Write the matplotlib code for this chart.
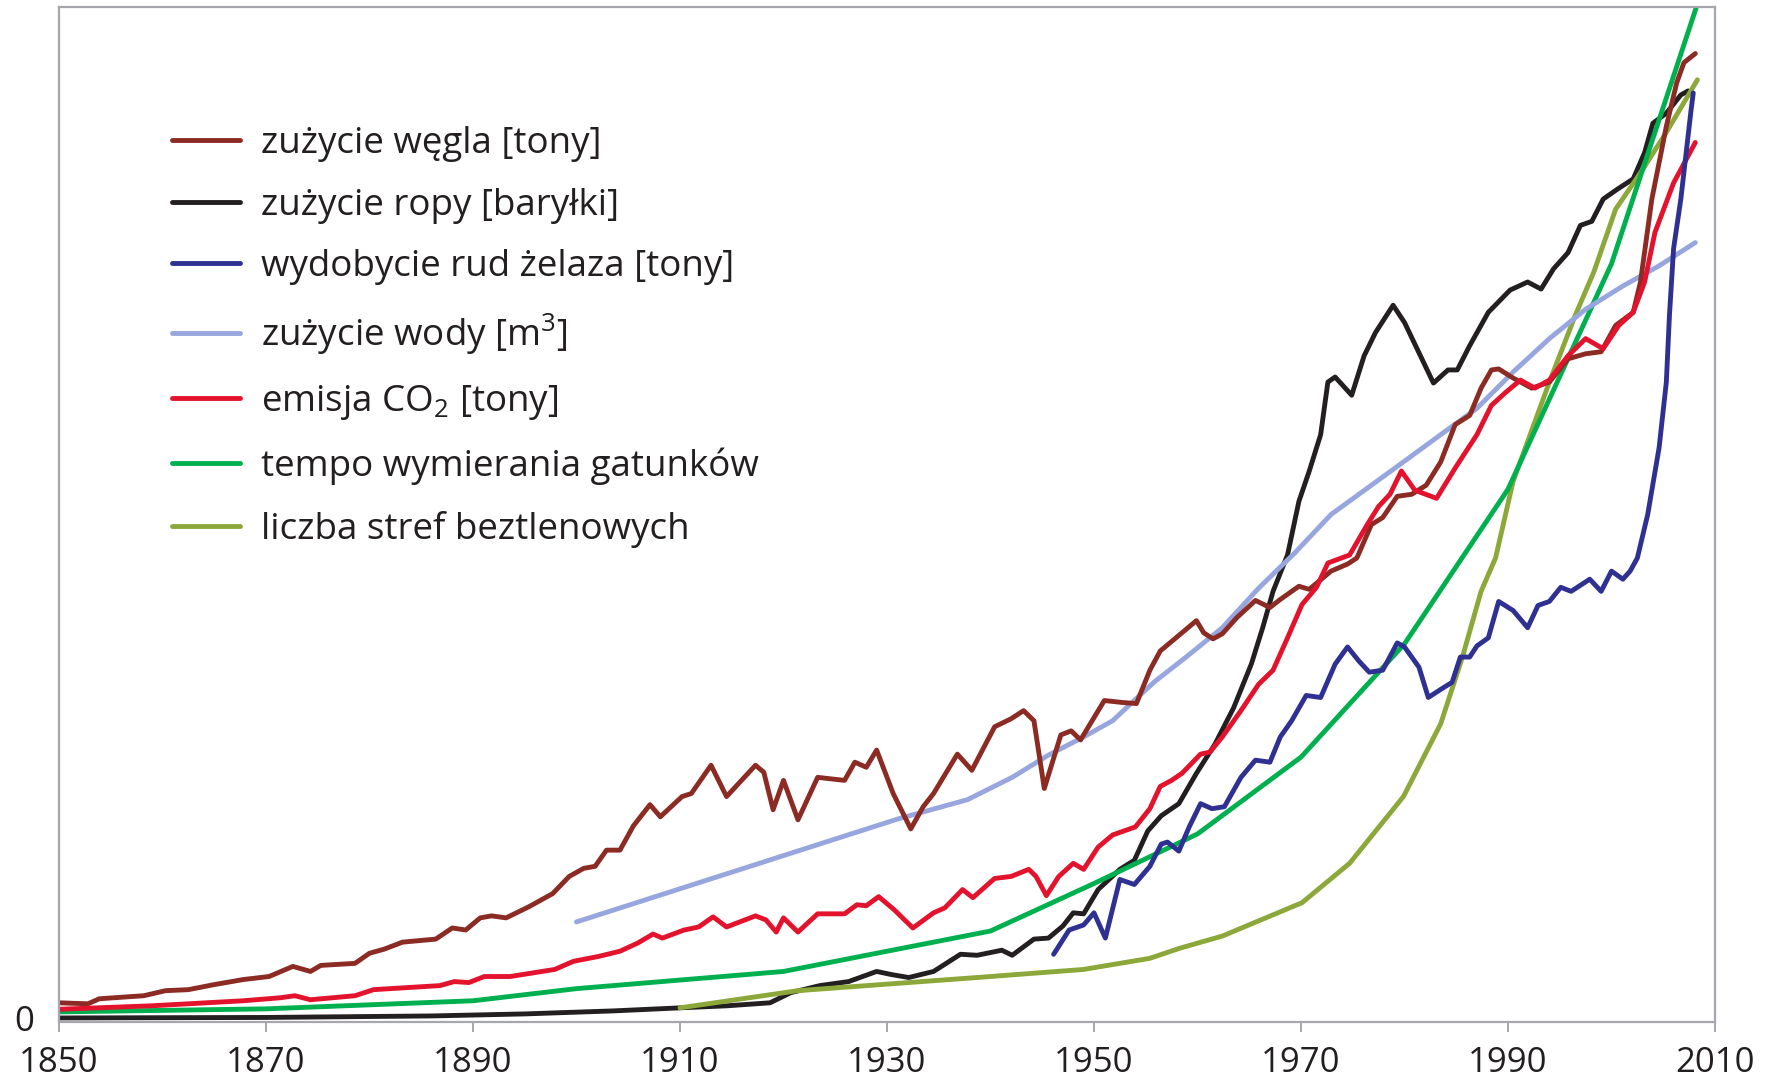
import matplotlib
matplotlib.use('Agg')
import matplotlib.pyplot as plt

# skala wzgledna 0-100 (os Y bez jednostek, tylko "0")
coal_years = [1850, 1852.8, 1853.9, 1858.2, 1860.3, 1862.5, 1865.0, 1867.8, 1870.3, 1872.6,
              1874.3, 1875.3, 1878.6, 1880.0, 1881.4, 1883.2, 1886.4, 1888.0, 1889.3, 1890.7,
              1891.8, 1893.2, 1895.4, 1897.7, 1899.3, 1900.7, 1901.8, 1902.9, 1904.2, 1905.5,
              1907.1, 1908.1, 1910.2, 1911.1, 1913.0, 1914.5, 1917.3, 1918.1, 1919.0, 1920.0,
              1921.4, 1923.3, 1925.9, 1926.9, 1928.0, 1929.0, 1930.6, 1932.3, 1933.5, 1934.5,
              1936.8, 1938.2, 1940.4, 1942.0, 1943.2, 1944.2, 1945.2, 1946.8, 1947.8, 1948.7,
              1951.0, 1952.8, 1954.1, 1955.4, 1956.4, 1957.8, 1959.9, 1960.6, 1961.5, 1962.4,
              1963.8, 1965.6, 1967.0, 1968.0, 1969.8, 1970.8, 1972.9, 1974.5, 1975.4, 1976.8,
              1977.9, 1979.3, 1980.7, 1982.1, 1983.5, 1984.9, 1986.3, 1987.4, 1988.4, 1989.1,
              1990.5, 1992.3, 1994.0, 1995.8, 1997.5, 1999.0, 2000.4, 2002.1, 2002.8, 2003.9,
              2005.3, 2006.3, 2007.0, 2008.1]
coal = [1.5, 1.4, 1.9, 2.2, 2.7, 2.8, 3.3, 3.8, 4.1, 5.1,
        4.6, 5.2, 5.4, 6.4, 6.8, 7.5, 7.8, 8.9, 8.7, 9.9,
        10.1, 9.9, 11.0, 12.3, 14.0, 14.8, 15.0, 16.6, 16.6, 19.0,
        21.1, 19.9, 21.9, 22.2, 25.0, 21.9, 25.0, 24.3, 20.6, 23.5,
        19.6, 23.8, 23.5, 25.3, 24.8, 26.5, 22.2, 18.7, 20.9, 22.2,
        26.1, 24.5, 28.8, 29.6, 30.4, 29.4, 22.7, 28.0, 28.4, 27.5,
        31.4, 31.2, 31.1, 34.4, 36.3, 37.5, 39.3, 38.1, 37.5, 38.0,
        39.6, 41.3, 40.6, 41.4, 42.7, 42.4, 44.2, 44.9, 45.5, 48.8,
        49.5, 51.6, 51.8, 52.7, 55.0, 58.7, 59.6, 62.3, 64.1, 64.2,
        63.3, 62.3, 62.9, 65.2, 65.7, 65.9, 68.5, 69.8, 72.8, 81.0,
        88.2, 92.5, 94.5, 95.4]

oil_years = [1850, 1870, 1886, 1895, 1903.6, 1910.0, 1914.5, 1918.7, 1920.7, 1923.5,
             1926.3, 1929.0, 1930.4, 1932.1, 1934.5, 1937.1, 1938.7, 1941.1, 1942.1, 1944.2,
             1945.6, 1947.0, 1948.0, 1949.0, 1950.4, 1952.5, 1953.9, 1955.2, 1956.5, 1958.2,
             1959.9, 1961.7, 1963.5, 1965.2, 1966.3, 1967.3, 1968.7, 1969.8, 1970.8, 1971.9,
             1972.6, 1973.3, 1974.9, 1976.1, 1977.2, 1978.9, 1980.0, 1982.8, 1984.2, 1985.1,
             1986.3, 1988.1, 1990.2, 1991.9, 1993.2, 1994.4, 1995.8, 1997.0, 1998.1, 1999.2,
             2000.6, 2002.1, 2003.2, 2004.0, 2005.3, 2006.7, 2007.4]
oil = [0.0, 0.05, 0.2, 0.4, 0.7, 1.0, 1.2, 1.5, 2.5, 3.2,
       3.6, 4.6, 4.3, 4.0, 4.6, 6.3, 6.2, 6.7, 6.2, 7.8,
       7.9, 9.1, 10.4, 10.3, 12.7, 14.7, 15.6, 18.5, 20.0, 21.2,
       24.2, 27.1, 30.7, 35.0, 38.6, 42.2, 45.8, 51.1, 54.1, 57.7,
       62.9, 63.4, 61.6, 65.5, 67.8, 70.5, 68.8, 62.8, 64.1, 64.1,
       66.5, 69.8, 72.0, 72.8, 72.1, 74.1, 75.7, 78.4, 78.8, 81.0,
       82.0, 83.0, 85.6, 88.5, 89.5, 91.3, 91.7]

iron_years = [1946.1, 1947.6, 1949.0, 1950.0, 1951.1, 1952.5, 1953.9, 1955.4, 1956.5, 1957.1,
              1958.2, 1959.2, 1960.3, 1961.4, 1962.6, 1964.2, 1965.6, 1967.0, 1968.0, 1969.1,
              1970.5, 1971.9, 1973.3, 1974.5, 1975.6, 1976.6, 1977.9, 1979.3, 1980.0, 1981.4,
              1982.3, 1983.5, 1984.6, 1985.4, 1986.3, 1987.0, 1988.1, 1989.1, 1990.5, 1991.9,
              1992.9, 1994.0, 1995.1, 1996.1, 1997.9, 1999.0, 2000.0, 2001.1, 2001.8, 2002.5,
              2003.5, 2004.6, 2005.3, 2005.6, 2006.0, 2006.7, 2007.7, 2007.9]
iron = [6.3, 8.7, 9.2, 10.4, 7.9, 13.7, 13.2, 15.0, 17.2, 17.4,
        16.5, 18.9, 21.2, 20.7, 20.9, 23.8, 25.5, 25.3, 27.8, 29.4,
        31.9, 31.7, 35.0, 36.7, 35.3, 34.2, 34.4, 37.1, 36.7, 34.7,
        31.7, 32.5, 33.2, 35.7, 35.7, 36.8, 37.6, 41.2, 40.3, 38.6,
        40.8, 41.2, 42.6, 42.2, 43.4, 42.2, 44.2, 43.4, 44.2, 45.5,
        49.8, 56.4, 62.9, 69.5, 76.1, 81.0, 89.9, 91.5]

water_years = [1900.0, 1931.1, 1937.8, 1942.1, 1945.6, 1949.0, 1951.8, 1954.2, 1955.9, 1958.9,
               1962.4, 1965.9, 1969.4, 1972.9, 1976.4, 1979.9, 1983.5, 1987.0, 1990.5, 1994.0,
               1997.5, 2001.1, 2004.6, 2008.1]
water = [9.5, 19.7, 21.6, 23.8, 26.0, 27.8, 29.4, 31.7, 33.3, 35.7,
         38.6, 42.5, 46.0, 49.8, 52.4, 55.0, 57.7, 60.3, 63.9, 67.2,
         70.1, 72.4, 74.4, 76.7]

co2_years = [1850, 1858.9, 1867.8, 1871.4, 1872.8, 1874.3, 1878.6, 1880.4, 1886.8, 1888.2,
             1889.6, 1891.1, 1893.6, 1897.9, 1899.7, 1902.2, 1904.2, 1905.9, 1907.4, 1908.3,
             1910.4, 1911.8, 1913.2, 1914.5, 1917.3, 1918.3, 1919.3, 1920.0, 1921.4, 1923.3,
             1925.9, 1927.1, 1928.0, 1929.2, 1930.7, 1932.5, 1934.5, 1935.6, 1937.3, 1938.3,
             1940.4, 1942.0, 1943.7, 1944.4, 1945.4, 1946.6, 1948.0, 1949.0, 1950.4, 1951.8,
             1954.0, 1955.4, 1956.4, 1957.5, 1958.5, 1960.3, 1961.2, 1962.4, 1964.2, 1965.9,
             1967.3, 1968.7, 1970.1, 1971.5, 1972.6, 1974.7, 1976.4, 1977.5, 1978.6, 1979.7,
             1981.0, 1983.1, 1984.9, 1987.0, 1988.4, 1989.8, 1991.2, 1992.6, 1994.0, 1995.8,
             1997.5, 1999.2, 2000.7, 2002.1, 2003.2, 2004.2, 2006.0, 2008.1]
co2 = [0.86, 1.2, 1.7, 2.0, 2.2, 1.8, 2.2, 2.8, 3.2, 3.6,
       3.5, 4.1, 4.1, 4.8, 5.6, 6.1, 6.6, 7.4, 8.3, 7.9,
       8.7, 9.0, 10.0, 9.0, 10.1, 9.7, 8.5, 9.9, 8.5, 10.3,
       10.3, 11.2, 11.1, 12.0, 10.7, 8.9, 10.4, 10.9, 12.7, 11.9,
       13.8, 14.0, 14.7, 14.0, 12.1, 14.0, 15.3, 14.7, 16.9, 18.1,
       18.9, 20.7, 22.9, 23.5, 24.2, 26.1, 26.3, 27.8, 30.4, 33.0,
       34.4, 37.6, 40.9, 42.6, 45.0, 45.8, 48.8, 50.6, 51.8, 54.1,
       52.2, 51.4, 54.4, 57.7, 60.6, 61.9, 63.1, 62.3, 63.1, 65.5,
       67.2, 66.2, 68.5, 69.8, 72.8, 77.7, 82.6, 86.6]

species_years = [1850, 1870, 1890, 1900, 1920, 1940, 1950, 1960, 1970, 1980, 1990, 2000, 2008.3]
species = [0.6, 0.9, 1.7, 2.9, 4.6, 8.6, 13.3, 18.2, 25.8, 37.0, 52.3, 74.6, 100.3]

anoxic_years = [1910.0, 1921.4, 1938.7, 1949.0, 1955.4, 1958.3, 1962.4, 1970.1, 1974.7, 1979.9,
                1983.5, 1985.6, 1987.4, 1988.8, 1990.5, 1994.0, 1996.5, 1998.3, 2000.4, 2002.8,
                2005.3, 2008.3]
anoxic = [1.0, 2.7, 4.0, 4.8, 5.9, 6.9, 8.1, 11.4, 15.3, 21.9,
          29.1, 35.7, 42.2, 45.5, 53.1, 62.9, 69.5, 73.8, 80.0, 83.6,
          87.6, 92.8]

series = [
    (coal_years, coal, '#8c2a24', 'zużycie węgla [tony]'),
    (oil_years, oil, '#231f20', 'zużycie ropy [baryłki]'),
    (iron_years, iron, '#2e3192', 'wydobycie rud żelaza [tony]'),
    (water_years, water, '#97a6de', 'zużycie wody [m$^\\mathregular{3}$]'),
    (co2_years, co2, '#e3132d', 'emisja CO$_\\mathregular{2}$ [tony]'),
    (species_years, species, '#00b04f', 'tempo wymierania gatunków'),
    (anoxic_years, anoxic, '#8ca83a', 'liczba stref beztlenowych'),
]

year_ticks = [1850, 1870, 1890, 1910, 1930, 1950, 1970, 1990, 2010]

plt.rcParams['font.family'] = ['Open Sans', 'DejaVu Sans']
plt.rcParams['mathtext.fontset'] = 'custom'
plt.rcParams['mathtext.rm'] = 'Open Sans'

fig = plt.figure(figsize=(17.87, 10.8), dpi=100)
ax = fig.add_axes([0.0330, 0.0537, 0.9267, 0.9398])

# kolejnosc rysowania: najpierw tlo, potem linie z legendy
draw_order = [1, 6, 5, 3, 0, 4, 2]
handles = [None] * len(series)
for i in draw_order:
    xs, ys, color, label = series[i]
    line, = ax.plot(xs, ys, color=color, lw=3.5, label=label,
                    solid_capstyle='round', solid_joinstyle='round')
    handles[i] = line

ax.set_xlim(1850, 2010)
ax.set_ylim(-0.4, 100)
ax.set_xticks(year_ticks)
ax.set_xticklabels([str(y) for y in year_ticks])
ax.set_yticks([0])
ax.set_yticklabels(['0'])

for s in ax.spines.values():
    s.set_color('#a6a6ad')
    s.set_linewidth(1.6)
ax.tick_params(axis='x', length=7, width=1.4, color='#a6a6ad', labelsize=25,
               labelcolor='#231f20', pad=10)
ax.tick_params(axis='y', length=0, labelsize=25, labelcolor='#231f20', pad=18)

leg = ax.legend(handles=handles, loc='upper left', bbox_to_anchor=(0.068, 0.883),
                frameon=False, fontsize=26.5, handlelength=1.85, handletextpad=0.58,
                labelspacing=0.70, borderpad=0, borderaxespad=0)
for t in leg.get_texts():
    t.set_color('#231f20')

fig.savefig('out.png', dpi=100)
